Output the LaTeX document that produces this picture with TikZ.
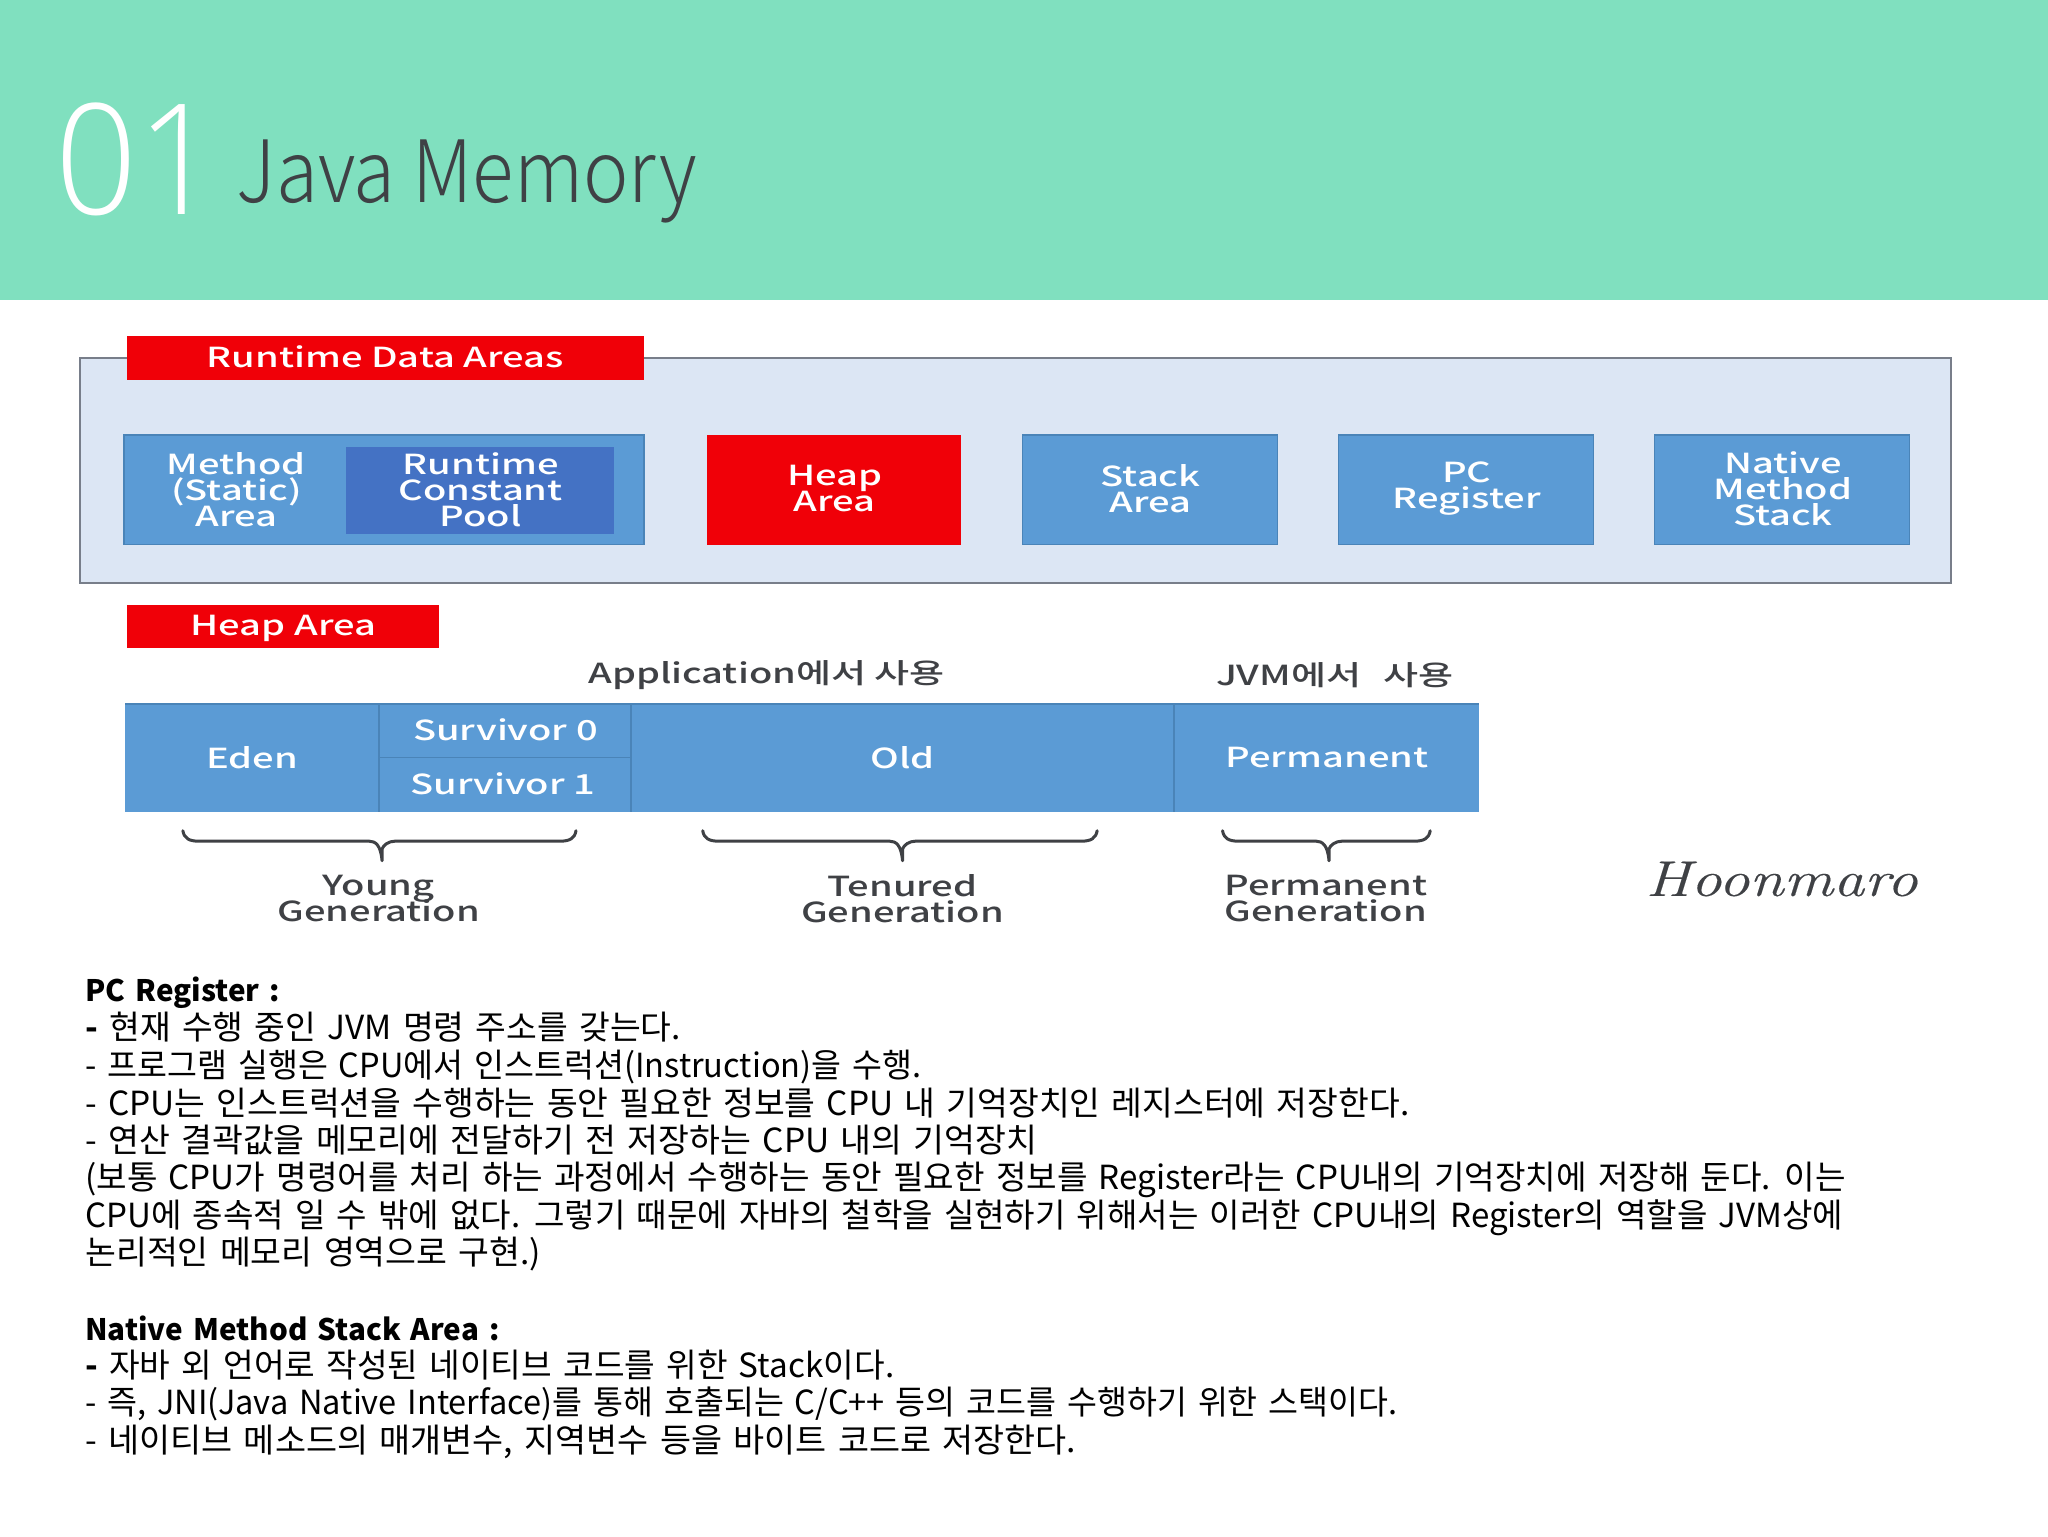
\documentclass[tikz,border=0pt]{standalone}
\usepackage{fontspec}
\setmainfont{Noto Sans CJK KR}
\newfontfamily\bodyfont[WordSpace=1.5]{Noto Sans CJK KR}
\newfontfamily\diagfont[FakeStretch=1.38]{Noto Sans CJK KR Medium}
\newfontfamily\titlefont[FakeStretch=.89]{Noto Sans CJK KR Light}
\newfontfamily\numfont[FakeStretch=.93]{Open Sans Light}
\newfontfamily\logofont[FakeStretch=1.24,FakeBold=0.25]{Latin Modern Roman}
\newcommand{\diagset}{\diagfont\fontsize{13.8}{13}\selectfont\lineskiplimit -20pt\relax}
\definecolor{hdr}{HTML}{80E0BF}
\definecolor{panel}{HTML}{DCE6F4}
\definecolor{panelline}{HTML}{787E8A}
\definecolor{cellblue}{HTML}{5B9BD5}
\definecolor{cellline}{HTML}{4A84B8}
\definecolor{deepblue}{HTML}{4472C4}
\definecolor{alert}{HTML}{F00008}
\definecolor{ink}{HTML}{3F4145}
\tikzset{
  celltext/.style={font=\diagset,text=white,align=center,inner sep=0pt},
  inktext/.style={font=\diagset,text=ink,align=center,inner sep=0pt},
  bodyline/.style={font=\bodyfont\fontsize{16.6}{17}\selectfont,text=black,anchor=base west,inner sep=0pt,transform shape},
  headline/.style={font=\bodyfont\bfseries\fontsize{14.8}{17}\selectfont,text=black,anchor=base west,inner sep=0pt},
  bracket/.style={draw=ink,line width=1.5pt,line cap=round,line join=round}
}
\newcommand{\genbrace}[3]{%
  \coordinate (#1L) at (#2,636);
  \coordinate (#1R) at (#3,636);
  \coordinate (#1T) at ({(#2+#3)/2+2},659);
  \draw[bracket] (#1L) .. controls (#2+1,642) and (#2+5,644) .. (#2+12,644) -- ({(#2+#3)/2-8},644)
     .. controls ({(#2+#3)/2-3},644) and ({(#2+#3)/2+1},647) .. (#1T) -- ({(#2+#3)/2+2},650)
     .. controls ({(#2+#3)/2+3},647) and ({(#2+#3)/2+7},644) .. ({(#2+#3)/2+12},644) -- (#3-12,644)
     .. controls (#3-5,644) and (#3-1,642) .. (#1R);
}
\begin{document}
\begin{tikzpicture}[x=0.653061pt,y=-0.653061pt]
\useasboundingbox (0,0) rectangle (1568,1176);
\fill[white] (0,0) rectangle (1568,1176);
\fill[hdr] (0,0) rectangle (1568,230);
\node[anchor=base west,inner sep=0pt,text=white,font=\numfont\fontsize{77}{77}\selectfont] (num) at (42,164) {01};
\node[anchor=base west,inner sep=0pt,text=ink,font=\titlefont\fontsize{43}{43}\selectfont] (title) at (181,155) {Java Memory};

% runtime data areas
\fill[panel,draw=panelline,line width=1pt] (61,274) rectangle (1494,446);
\fill[alert] (97,257) rectangle (493,291);
\node[celltext] (rda) at (295,273) {Runtime Data Areas};
\fill[cellblue,draw=cellline,line width=.6pt] (95,333) rectangle (493,417);
\fill[deepblue] (265,342) rectangle (470,409);
\node[celltext] (method) at (181,375) {Method\\(Static)\\Area};
\node[celltext] (pool) at (368,375) {Runtime\\Constant\\Pool};
\fill[alert] (541,333) rectangle (736,417);
\node[celltext] (heap) at (639,374) {Heap\\Area};
\fill[cellblue,draw=cellline,line width=.6pt] (783,333) rectangle (978,417);
\node[celltext] (stack) at (881,374) {Stack\\Area};
\fill[cellblue,draw=cellline,line width=.6pt] (1025,333) rectangle (1220,417);
\node[celltext] (pc) at (1123,374) {PC\\Register};
\fill[cellblue,draw=cellline,line width=.6pt] (1267,333) rectangle (1462,417);
\node[celltext] (native) at (1365,374) {Native\\Method\\Stack};

% heap area
\fill[alert] (97,463) rectangle (336,496);
\node[celltext] (ha) at (217,481) {Heap Area};
\node[inktext] (appuse) at (587,517) {Application에서 사용};
\node[inktext] (jvmuse) at (1022,517) {JVM에서\hspace{.5em} 사용};
\fill[cellblue] (96,539) rectangle (1132,622);
\draw[cellline,line width=.8pt] (96,539) -- (1132,539);
\draw[cellline,line width=.8pt] (290,539) -- (290,622) (483,539) -- (483,622) (899,539) -- (899,622) (290,580) -- (483,580);
\node[celltext] (eden) at (193,580) {Eden};
\node[celltext] (s0) at (387,559) {Survivor 0};
\node[celltext] (s1) at (385,600) {Survivor 1};
\node[celltext] (old) at (691,580) {Old};
\node[celltext] (perm) at (1016,580) {Permanent};

\genbrace{a}{140}{441}
\genbrace{b}{538}{840}
\genbrace{c}{936}{1095}
\node[inktext] (young) at (290,688) {Young\\Generation};
\node[inktext] (ten) at (691,688) {Tenured\\Generation};
\node[inktext] (pgen) at (1015,688) {Permanent\\Generation};
\node[text=ink,inner sep=0pt,font=\logofont\itshape\fontsize{25}{25}\selectfont] (logo) at (1364,673) {Hoonmaro};

% body text
\node[headline] (l1) at (65,767) {PC Register :};
\node[bodyline,xscale=1.007] (l2) at (65,796) {\textbf{-} 현재 수행 중인 JVM 명령 주소를 갖는다.};
\node[bodyline,xscale=.98] (l3) at (65,825) {- 프로그램 실행은 CPU에서 인스트럭션(Instruction)을 수행.};
\node[bodyline,xscale=1.0075] (l4) at (65,854) {- CPU는 인스트럭션을 수행하는 동안 필요한 정보를 CPU 내 기억장치인 레지스터에 저장한다.};
\node[bodyline,xscale=1.011] (l5) at (65,882) {- 연산 결곽값을 메모리에 전달하기 전 저장하는 CPU 내의 기억장치};
\node[bodyline] (l6) at (65,911) {(보통 CPU가 명령어를 처리 하는 과정에서 수행하는 동안 필요한 정보를 Register라는 CPU내의 기억장치에 저장해 둔다. 이는};
\node[bodyline,xscale=.997] (l7) at (65,940) {CPU에 종속적 일 수 밖에 없다. 그렇기 때문에 자바의 철학을 실현하기 위해서는 이러한 CPU내의 Register의 역할을 JVM상에};
\node[bodyline,xscale=1.011] (l8) at (65,968) {논리적인 메모리 영역으로 구현.)};
\node[headline] (l9) at (65,1026) {Native Method Stack Area :};
\node[bodyline,xscale=1.003] (l10) at (65,1055) {\textbf{-} 자바 외 언어로 작성된 네이티브 코드를 위한 Stack이다.};
\node[bodyline,xscale=.98] (l11) at (65,1083) {- 즉, JNI(Java Native Interface)를 통해 호출되는 C/C++ 등의 코드를 수행하기 위한 스택이다.};
\node[bodyline,xscale=1.017] (l12) at (65,1112) {- 네이티브 메소드의 매개변수, 지역변수 등을 바이트 코드로 저장한다.};
\end{tikzpicture}
\end{document}
